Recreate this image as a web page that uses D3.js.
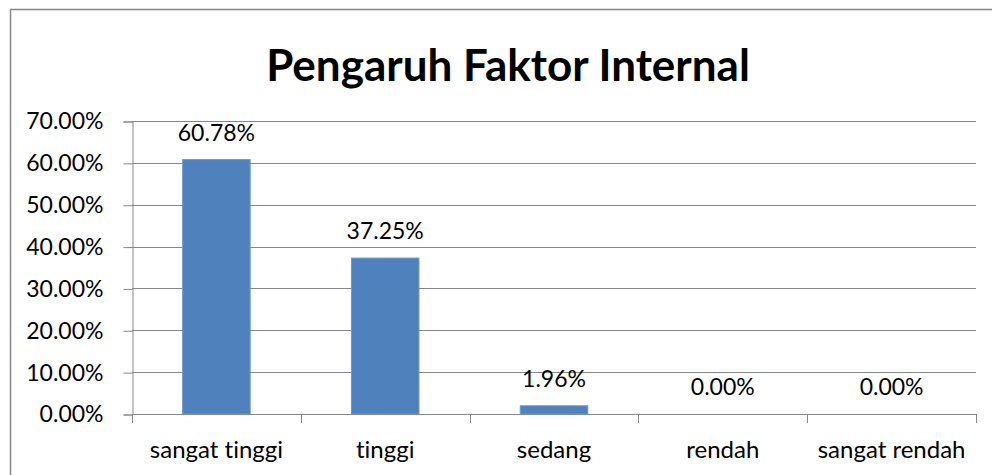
<!DOCTYPE html>
<meta charset="utf-8">
<script src="https://d3js.org/d3.v7.min.js"></script>
<style>
  body { margin: 0; background: #fff; }
  text { font-family: Lato, "Noto Sans", sans-serif; fill: #000; font-variant-ligatures: none; }
</style>
<div id="my_dataviz"></div>
<script>

// data
var categories = ["sangat tinggi", "tinggi", "sedang", "rendah", "sangat rendah"];
var values = [0.6078, 0.3725, 0.0196, 0.0, 0.0];
var yTicks = [0, 0.1, 0.2, 0.3, 0.4, 0.5, 0.6, 0.7];
var title = "Pengaruh Faktor Internal";

var W = 992, H = 475;
var plot = {left: 132, right: 976, top: 121, bottom: 414};

var svg = d3.select("#my_dataviz")
  .append("svg")
    .attr("width", W)
    .attr("height", H);

// outer chart border (right and bottom run off the picture)
svg.append("rect")
  .attr("x", 10.5).attr("y", 9.5)
  .attr("width", W + 20).attr("height", H + 20)
  .attr("fill", "none")
  .attr("stroke", "#868686")
  .attr("stroke-width", 1.5);

svg.append("text")
  .attr("x", 508).attr("y", 81)
  .attr("text-anchor", "middle")
  .style("font-weight", "bold")
  .style("font-size", "44px")
  .text(title);

var x = d3.scaleBand()
  .domain(categories)
  .range([plot.left, plot.right])
  .padding(0);

var y = d3.scaleLinear()
  .domain([0, 0.7])
  .range([plot.bottom, plot.top]);

var fmt = function(v) { return (v * 100).toFixed(2) + "%"; };

// gridlines
svg.append("g")
  .selectAll("line")
  .data(yTicks)
  .enter().append("line")
    .attr("x1", plot.left).attr("x2", plot.right)
    .attr("y1", function(d) { return Math.round(y(d)) + 0.5; })
    .attr("y2", function(d) { return Math.round(y(d)) + 0.5; })
    .attr("stroke", "#868686")
    .attr("stroke-width", 1);

// y axis
var yAxis = svg.append("g")
  .attr("transform", "translate(" + (plot.left + 0.5) + ",0.5)")
  .call(d3.axisLeft(y).tickValues(yTicks).tickFormat(fmt).tickSize(9).tickPadding(20));
yAxis.selectAll("line, path").attr("stroke", "#868686");
yAxis.selectAll("text")
  .style("font-size", "23px")
  .style("font-family", "Lato, 'Noto Sans', sans-serif")
  .attr("fill", "#000");

// x axis: ticks on category boundaries
var xb = svg.append("g");
xb.append("line")
  .attr("x1", plot.left).attr("x2", plot.right)
  .attr("y1", plot.bottom + 0.5).attr("y2", plot.bottom + 0.5)
  .attr("stroke", "#868686");
var bounds = categories.map(function(c) { return x(c); }).concat([x(categories[categories.length - 1]) + x.bandwidth()]);
xb.selectAll(".tk")
  .data(bounds)
  .enter().append("line")
    .attr("x1", function(d) { return Math.round(d) + 0.5; })
    .attr("x2", function(d) { return Math.round(d) + 0.5; })
    .attr("y1", plot.bottom).attr("y2", plot.bottom + 9)
    .attr("stroke", "#868686");
xb.selectAll("text")
  .data(categories)
  .enter().append("text")
    .attr("x", function(d) { return x(d) + x.bandwidth() / 2; })
    .attr("y", 458)
    .attr("text-anchor", "middle")
    .style("font-size", "24px")
    .text(function(d) { return d; });

// bars
var bw = x.bandwidth() * 0.4;
var rows = categories.map(function(c, i) { return {cat: c, val: values[i]}; });

svg.selectAll("rect.bar")
  .data(rows)
  .enter().append("rect")
    .attr("class", "bar")
    .attr("x", function(d) { return x(d.cat) + (x.bandwidth() - bw) / 2; })
    .attr("y", function(d) { return y(d.val); })
    .attr("width", bw)
    .attr("height", function(d) { return plot.bottom - y(d.val); })
    .attr("fill", "#4F81BD")
    .attr("stroke", "#6E96C8")
    .attr("stroke-width", 1);

// data labels
svg.selectAll("text.lbl")
  .data(rows)
  .enter().append("text")
    .attr("class", "lbl")
    .attr("x", function(d) { return x(d.cat) + x.bandwidth() / 2; })
    .attr("y", function(d) { return y(d.val) - 19; })
    .attr("text-anchor", "middle")
    .style("font-size", "23px")
    .text(function(d) { return fmt(d.val); });

</script>
